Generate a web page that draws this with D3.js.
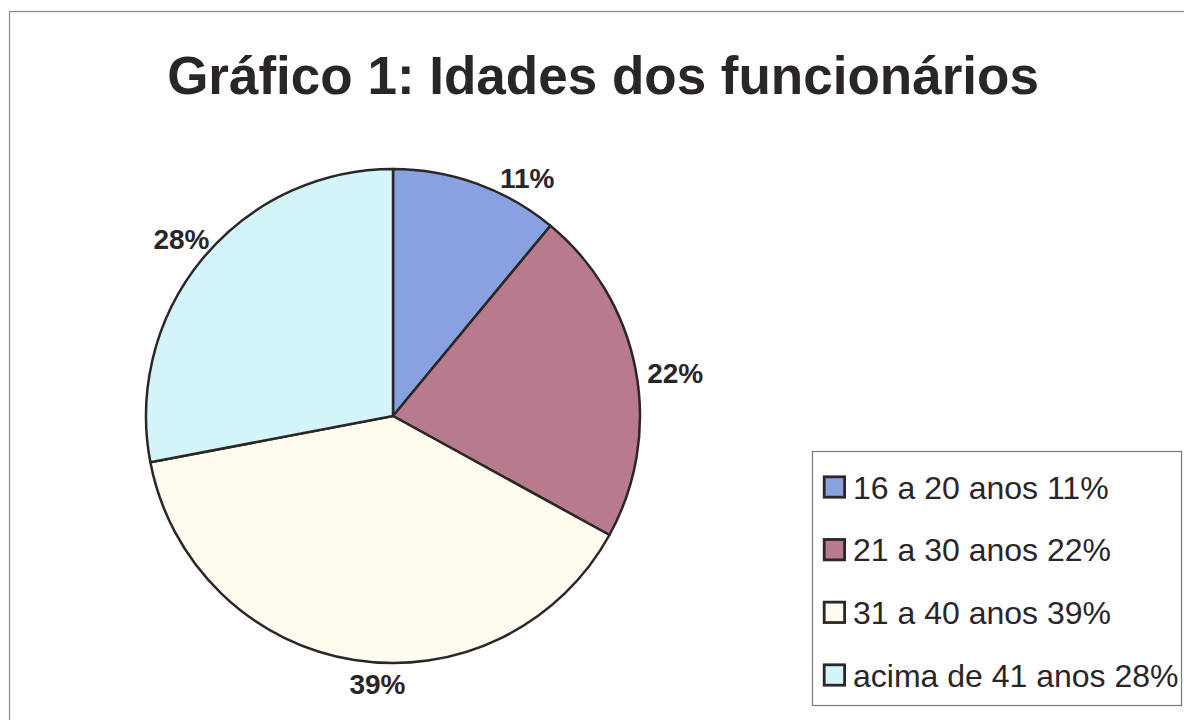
<!DOCTYPE html>
<html>
<head>
<meta charset="utf-8">
<script src="https://cdn.jsdelivr.net/npm/d3@7"></script>
<style>
  body { margin: 0; background: #fff; }
  svg { display: block; font-family: "Liberation Sans", Arial, sans-serif; }
</style>
</head>
<body>
<svg width="1184" height="720"></svg>
<script>
// data
var categories = ["16 a 20 anos", "21 a 30 anos", "31 a 40 anos", "acima de 41 anos"];
var values = [11, 22, 39, 28];
var colors = ["#88a1e1", "#b87b8d", "#fffcef", "#d3f4f8"];

var width = 1184, height = 720;
var cx = 393, cy = 416, radius = 247;

var svg = d3.select("svg");

// outer chart frame (right and bottom edges fall off the scan)
svg.append("rect")
    .attr("x", 9.5).attr("y", 11.5)
    .attr("width", 1200).attr("height", 740)
    .attr("fill", "none")
    .attr("stroke", "#8a8a8a")
    .attr("stroke-width", 1.2);

// title
svg.append("text")
    .attr("x", 603)
    .attr("y", 94)
    .attr("text-anchor", "middle")
    .style("font-size", "53px")
    .style("font-weight", "bold")
    .style("fill", "#2a2526")
    .text("Gráfico 1: Idades dos funcionários");

var data = categories.map(function(c, i) { return {cat: c, value: values[i]}; });

var pie = d3.pie()
    .value(function(d) { return d.value; })
    .sort(null);

var arc = d3.arc().innerRadius(0).outerRadius(radius);
var labelArc = d3.arc().innerRadius(272).outerRadius(272);

var color = d3.scaleOrdinal().domain(categories).range(colors);

var g = svg.append("g")
    .attr("transform", "translate(" + cx + "," + cy + ")");

var arcs = pie(data);

g.selectAll(".slice")
    .data(arcs)
  .enter().append("path")
    .attr("class", "slice")
    .attr("d", arc)
    .attr("fill", function(d) { return color(d.data.cat); })
    .attr("stroke", "#2b2728")
    .attr("stroke-width", 2.5)
    .attr("stroke-linejoin", "round");

// labels sit just outside the rim, nudged the way Excel laid them out
var labelNudge = [[42, 18], [15, 8], [27, 0], [-2, -3]];

g.selectAll(".pct")
    .data(arcs)
  .enter().append("text")
    .attr("class", "pct")
    .attr("transform", function(d, i) {
      var c = labelArc.centroid(d);
      return "translate(" + (c[0] + labelNudge[i][0]) + "," + (c[1] + labelNudge[i][1]) + ")";
    })
    .attr("dy", "0.35em")
    .attr("text-anchor", "middle")
    .style("font-size", "28px")
    .style("font-weight", "bold")
    .style("fill", "#2a2526")
    .text(function(d) { return d.data.value + "%"; });

// legend
var legendY = d3.scalePoint().domain(categories).range([487, 675]);

svg.append("rect")
    .attr("x", 812.5).attr("y", 451.5)
    .attr("width", 369).attr("height", 254)
    .attr("fill", "#fff")
    .attr("stroke", "#7a7a7a")
    .attr("stroke-width", 1.2);

var legend = svg.selectAll(".legend")
    .data(data)
  .enter().append("g")
    .attr("class", "legend")
    .attr("transform", function(d) { return "translate(823," + legendY(d.cat) + ")"; });

legend.append("rect")
    .attr("x", 1.2).attr("y", -10.2)
    .attr("width", 20.4).attr("height", 20.4)
    .attr("fill", function(d) { return color(d.cat); })
    .attr("stroke", "#2b2728")
    .attr("stroke-width", 2.8);

legend.append("text")
    .attr("x", 30)
    .attr("y", 0)
    .attr("dy", "0.36em")
    .style("font-size", "32px")
    .style("fill", "#2a2526")
    .text(function(d) { return d.cat + " " + d.value + "%"; });
</script>
</body>
</html>
